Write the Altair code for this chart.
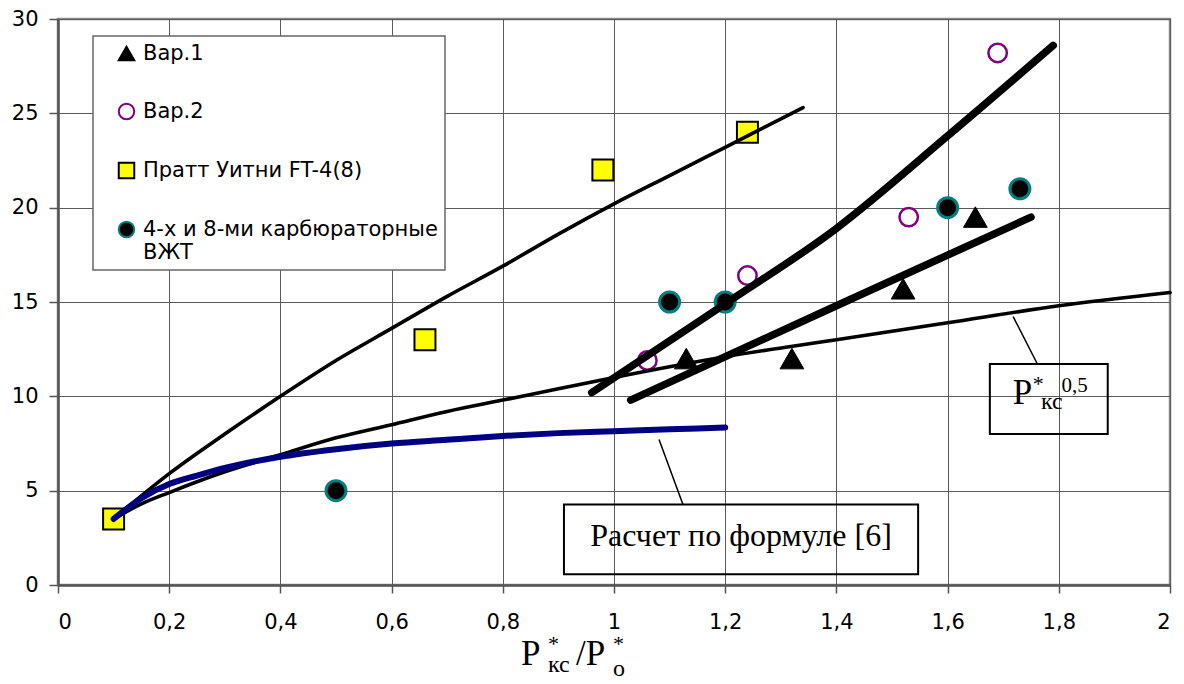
import altair as alt
import pandas as pd

# ---------------- data ----------------
series_names = ["Вар.1", "Вар.2", "Пратт Уитни FT-4(8)", "4-х и 8-ми карбюраторные ВЖТ"]

var1_x = [1.13, 1.32, 1.52, 1.65]
var1_y = [12.0, 12.0, 15.7, 19.5]

var2_x = [1.06, 1.24, 1.53, 1.69]
var2_y = [11.9, 16.4, 19.5, 28.2]

pw_x = [0.10, 0.66, 0.98, 1.24]
pw_y = [3.5, 13.0, 22.0, 24.0]

vzht_x = [0.50, 1.10, 1.20, 1.60, 1.73]
vzht_y = [5.0, 15.0, 15.0, 20.0, 21.0]

# thin upper curve
upper_x = [0.10, 0.20, 0.30, 0.40, 0.50, 0.60, 0.70, 0.80, 0.90, 1.00, 1.10, 1.20, 1.34]
upper_y = [3.5, 5.9, 8.0, 10.0, 11.9, 13.6, 15.3, 16.9, 18.6, 20.2, 21.7, 23.2, 25.3]

# P*кс^0.5 curve
sqrt_x = [0.10, 0.15, 0.20, 0.30, 0.40, 0.50, 0.60, 0.70, 0.80, 0.90, 1.00, 1.20, 1.40, 1.60, 1.80, 2.00]
sqrt_y = [3.5, 4.3, 4.9, 6.0, 6.9, 7.8, 8.5, 9.2, 9.8, 10.4, 11.0, 12.1, 13.0, 13.9, 14.8, 15.5]

# "Расчет по формуле [6]" (blue)
calc_x = [0.10, 0.15, 0.20, 0.25, 0.30, 0.40, 0.50, 0.60, 0.70, 0.80, 0.90, 1.00, 1.10, 1.20]
calc_y = [3.5, 4.6, 5.35, 5.8, 6.2, 6.8, 7.2, 7.5, 7.7, 7.9, 8.05, 8.15, 8.25, 8.35]

# thick trend lines
trendA_x = [0.96, 1.20, 1.40, 1.60, 1.79]
trendA_y = [10.2, 14.9, 18.9, 23.8, 28.6]
trendB_x = [1.03, 1.40, 1.75]
trendB_y = [9.8, 14.8, 19.5]

x_ticks = [0, 0.2, 0.4, 0.6, 0.8, 1.0, 1.2, 1.4, 1.6, 1.8, 2.0]
y_ticks = [0, 5, 10, 15, 20, 25, 30]

# annotation boxes and leader lines (data coordinates)
box_x = [1.676, 0.910]
box_x2 = [1.888, 1.547]
box_y = [8.01, 0.57]
box_y2 = [11.72, 4.27]
lead_x = [1.718, 1.081]
lead_y = [14.22, 7.71]
lead_x2 = [1.761, 1.124]
lead_y2 = [11.74, 4.27]

# ---------------- tables ----------------
def pts(xs, ys, name):
    return pd.DataFrame({"x": xs, "y": ys, "series": [name] * len(xs)})

def line_df(xs, ys):
    return pd.DataFrame({"x": xs, "y": ys})

xs = alt.Scale(domain=[0, 2], nice=False, zero=False)
ys = alt.Scale(domain=[0, 30], nice=False)

x_axis = alt.Axis(values=x_ticks, title=None, grid=True, tickSize=8,
                  labelPadding=18,
                  labelExpr="replace(format(datum.value, '.1~f'), '.', ',')")
y_axis = alt.Axis(values=y_ticks, title=None, grid=True, tickSize=9, labelPadding=11)

X = lambda: alt.X("x:Q", scale=xs, axis=x_axis)
Y = lambda: alt.Y("y:Q", scale=ys, axis=y_axis)

legend = alt.Legend(
    title=None, orient="none", legendX=35, legendY=17,
    labelExpr="datum.label == '4-х и 8-ми карбюраторные ВЖТ' ? ['4-х и 8-ми карбюраторные', 'ВЖТ'] : datum.label",
)
shape_enc = alt.Shape("series:N", scale=alt.Scale(domain=series_names,
                      range=["triangle-up", "circle", "square", "circle"]), legend=legend)
fill_enc = alt.Fill("series:N", scale=alt.Scale(domain=series_names,
                    range=["black", "white", "#FFFF00", "black"]), legend=legend)
stroke_enc = alt.Stroke("series:N", scale=alt.Scale(domain=series_names,
                        range=["black", "#800080", "black", "#008080"]), legend=legend)

def point_layer(df, size, sw):
    return alt.Chart(df).mark_point(filled=True, opacity=1, size=size, strokeWidth=sw).encode(
        x=X(), y=Y(), shape=shape_enc, fill=fill_enc, stroke=stroke_enc)

p1 = point_layer(pts(var1_x, var1_y, series_names[0]), 560, 1)
p2 = point_layer(pts(var2_x, var2_y, series_names[1]), 340, 2.5)
p3 = point_layer(pts(pw_x, pw_y, series_names[2]), 440, 2)
p4 = point_layer(pts(vzht_x, vzht_y, series_names[3]), 400, 3)

def curve(xs_, ys_, color, width, interp="monotone"):
    return alt.Chart(line_df(xs_, ys_)).mark_line(
        color=color, strokeWidth=width, interpolate=interp, strokeCap="round", strokeJoin="round"
    ).encode(x=X(), y=Y())

c_upper = curve(upper_x, upper_y, "black", 3.6)
c_sqrt = curve(sqrt_x, sqrt_y, "black", 3.6)
c_calc = curve(calc_x, calc_y, "#000080", 6)
c_A = curve(trendA_x, trendA_y, "black", 7.5)
c_B = curve(trendB_x, trendB_y, "black", 7.5, "linear")

boxes = alt.Chart(pd.DataFrame({"x": box_x, "x2": box_x2, "y": box_y, "y2": box_y2})).mark_rect(
    fill=None, fillOpacity=0, stroke="black", strokeWidth=2
).encode(x=alt.X("x:Q", scale=xs, axis=x_axis), x2="x2:Q",
         y=alt.Y("y:Q", scale=ys, axis=y_axis), y2="y2:Q")

leaders = alt.Chart(pd.DataFrame({"x": lead_x, "x2": lead_x2, "y": lead_y, "y2": lead_y2})).mark_rule(
    color="black", strokeWidth=1.5
).encode(x=alt.X("x:Q", scale=xs, axis=x_axis), x2="x2:Q",
         y=alt.Y("y:Q", scale=ys, axis=y_axis), y2="y2:Q")

# text in annotation boxes
calc_label = ["Расчет по формуле [6]"]
calc_lab = alt.Chart(pd.DataFrame({"x": [1.2285], "y": [2.06], "t": calc_label})).mark_text(
    font="Liberation Serif", fontSize=32, align="center", baseline="alphabetic", color="black"
).encode(x=X(), y=Y(), text="t:N")

p_parts = ["P", "*", "кс", "0,5"]
p_x = [1.717, 1.753, 1.768, 1.805]
p_y = [9.57, 10.3, 9.35, 10.25]
p_size = [35, 22, 24, 21]
p_box_text = alt.layer(*[
    alt.Chart(pd.DataFrame({"x": [p_x[i]], "y": [p_y[i]], "t": [p_parts[i]]})).mark_text(
        font="Liberation Serif", fontSize=p_size[i], align="left", baseline="alphabetic", color="black"
    ).encode(x=X(), y=Y(), text="t:N")
    for i in range(4)
])

# axis title P*кс/P*о composed from pieces (pixel positions in the plot frame)
t_parts = ["P", "*", "кс", "/P", "*", "о"]
t_px = [463, 490, 490, 518, 555, 555]
t_py = [646, 632, 653, 646, 632, 657]
t_size = [35, 22, 24, 35, 22, 24]
title_layers = [
    alt.Chart(pd.DataFrame({"t": [t_parts[i]]})).mark_text(
        font="Liberation Serif", fontSize=t_size[i], align="left", baseline="alphabetic", color="black"
    ).encode(x=alt.value(t_px[i]), y=alt.value(t_py[i]), text="t:N")
    for i in range(6)
]

chart = alt.layer(
    p3, p1, p2, p4,
    c_upper, c_sqrt, c_calc, c_A, c_B,
    boxes, leaders, calc_lab, p_box_text, *title_layers
).properties(
    width=1112, height=566,
    autosize=alt.AutoSizeParams(type="none"),
    padding={"left": 50, "top": 11, "right": 4, "bottom": 96},
    background="white",
).configure_view(
    stroke="#8a8a8a", strokeWidth=2.5
).configure_axis(
    domainColor="#555555", domainWidth=2.5, tickColor="#555555", tickWidth=1.5,
    gridColor="#5a5a5a", gridWidth=1, gridOpacity=1,
    labelFont="DejaVu Sans", labelFontSize=21, labelColor="black",
).configure_legend(
    labelFont="DejaVu Sans", labelFontSize=21, labelColor="black", labelLimit=0,
    symbolSize=240, symbolStrokeWidth=2, padding=7, rowPadding=34,
    symbolOffset=16, labelOffset=6,
    strokeColor="#666666", strokeWidth=1.5, fillColor="white",
)

chart.save("out.html", embed_options={"renderer": "svg", "actions": False})
